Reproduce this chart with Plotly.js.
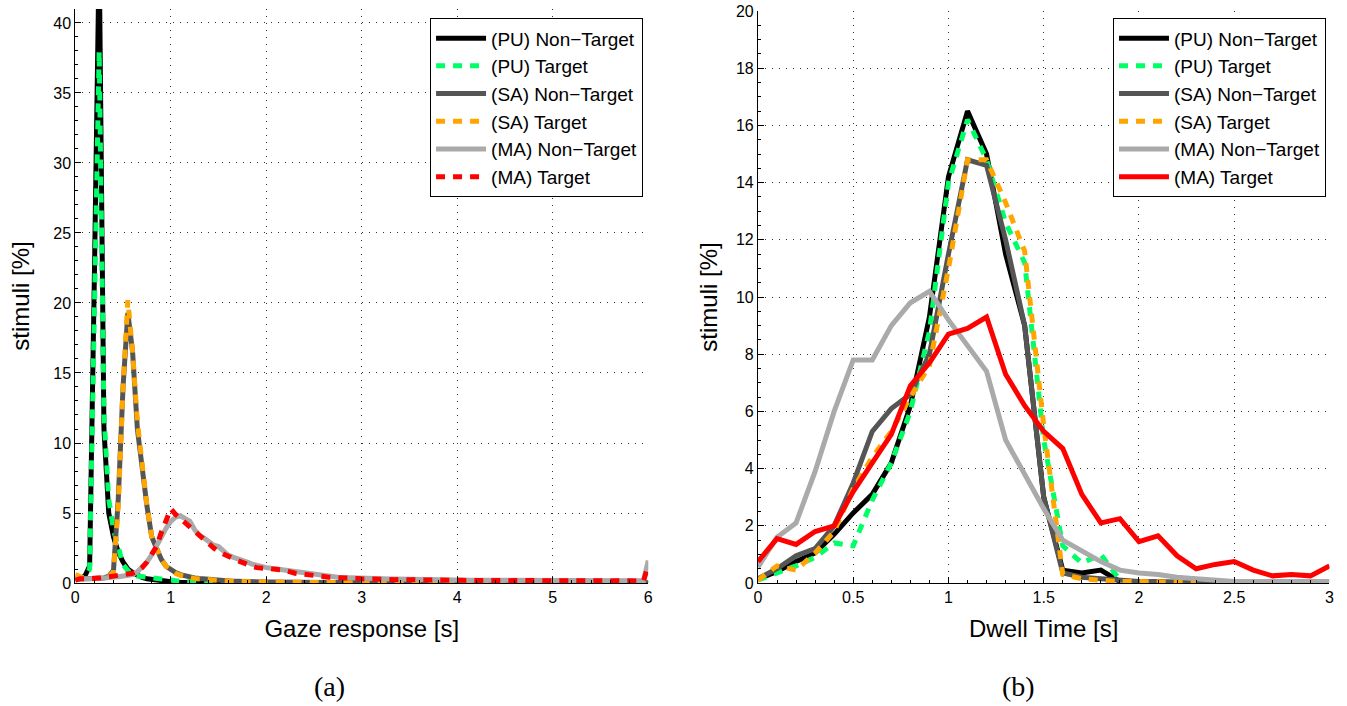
<!DOCTYPE html>
<html><head><meta charset="utf-8">
<script src="https://cdn.plot.ly/plotly-3.0.1.min.js"></script>
<style>html,body{margin:0;padding:0;background:#fff;}#chart{width:1347px;height:706px;}</style>
</head><body><div id="chart"></div>
<script>
const seriesNames = ['(PU) Non\u2212Target','(PU) Target','(SA) Non\u2212Target','(SA) Target','(MA) Non\u2212Target','(MA) Target'];
const seriesColors = ['#000000','#00ff66','#555555','#ffa500','#aaaaaa','#ff0000'];

// (a) Gaze response [s]
const gazeX = [
0,0.05,0.1,0.15,0.2,0.25,0.3,0.35,0.4,0.45,0.5,0.55,0.6,0.65,0.7,0.75,0.8,0.85,0.9,0.95,
1,1.05,1.1,1.15,1.2,1.25,1.3,1.35,1.4,1.45,1.5,1.55,1.6,1.65,1.7,1.75,1.8,1.85,1.9,1.95,
2,2.05,2.1,2.15,2.2,2.25,2.3,2.35,2.4,2.45,2.5,2.55,2.6,2.65,2.7,2.75,2.8,2.85,2.9,2.95,
3,3.05,3.1,3.15,3.2,3.25,3.3,3.35,3.4,3.45,3.5,3.55,3.6,3.65,3.7,3.75,3.8,3.85,3.9,3.95,
4,4.05,4.1,4.15,4.2,4.25,4.3,4.35,4.4,4.45,4.5,4.55,4.6,4.65,4.7,4.75,4.8,4.85,4.9,4.95,
5,5.05,5.1,5.15,5.2,5.25,5.3,5.35,5.4,5.45,5.5,5.55,5.6,5.65,5.7,5.75,5.8,5.85,5.9,5.95,
6];
const gazePUNonTarget = [
0.3,0.3,0.5,1.2,22,45,11,5,3.3,2.2,1.5,1.0,0.75,0.55,0.4,0.3,0.25,0.2,0.15,0.1,
0.08,0.05,0.04,0.03,0.02,0.02,0.01,0.01,0.01,0.01,0,0,0,0,0,0,0,0,0,0,
0,0,0,0,0,0,0,0,0,0,0,0,0,0,0,0,0,0,0,0,
0,0,0,0,0,0,0,0,0,0,0,0,0,0,0,0,0,0,0,0,
0,0,0,0,0,0,0,0,0,0,0,0,0,0,0,0,0,0,0,0,
0,0,0,0,0,0,0,0,0,0,0,0,0,0,0,0,0,0,0,0,
0];
const gazePUTarget = [
0.3,0.35,0.4,1.0,19,38,12,6,3.8,2.5,1.3,0.9,0.6,0.5,0.45,0.4,0.35,0.3,0.3,0.25,
0.2,0.15,0.12,0.1,0.08,0.06,0.05,0.04,0.03,0.02,0.02,0.01,0.01,0.01,0,0,0,0,0,0,
0,0,0,0,0,0,0,0,0,0,0,0,0,0,0,0,0,0,0,0,
0,0,0,0,0,0,0,0,0,0,0,0,0,0,0,0,0,0,0,0,
0,0,0,0,0,0,0,0,0,0,0,0,0,0,0,0,0,0,0,0,
0,0,0,0,0,0,0,0,0,0,0,0,0,0,0,0,0,0,0,0,
0];
const gazeSANonTarget = [
0.4,0.3,0.3,0.3,0.3,0.3,0.35,0.5,0.9,6,14,19.3,16.5,11,8,5.5,3.3,2.4,1.7,1.2,
0.95,0.75,0.6,0.5,0.42,0.36,0.32,0.28,0.25,0.22,0.2,0.17,0.15,0.13,0.12,0.1,0.1,0.09,0.08,0.08,
0.07,0.07,0.06,0.06,0.06,0.05,0.05,0.05,0.05,0.04,0.04,0.04,0.04,0.03,0.03,0.03,0.03,0.03,0.02,0.02,
0.02,0.02,0.02,0.02,0.02,0.01,0.01,0.01,0.01,0.01,0.01,0.01,0.01,0,0,0,0,0,0,0,
0,0,0,0,0,0,0,0,0,0,0,0,0,0,0,0,0,0,0,0,
0,0,0,0,0,0,0,0,0,0,0,0,0,0,0,0,0,0,0,0,
0];
const gazeSATarget = [
0.6,0.4,0.3,0.3,0.3,0.3,0.35,0.45,0.8,5.5,14,20.2,16.5,11.5,8.2,5.5,3.3,2.4,1.7,1.2,
0.9,0.7,0.55,0.45,0.38,0.33,0.28,0.25,0.22,0.2,0.18,0.16,0.14,0.12,0.11,0.1,0.09,0.08,0.08,0.07,
0.07,0.06,0.06,0.05,0.05,0.05,0.05,0.04,0.04,0.04,0.04,0.03,0.03,0.03,0.03,0.03,0.02,0.02,0.02,0.02,
0.02,0.02,0.01,0.01,0.01,0.01,0.01,0.01,0.01,0.01,0,0,0,0,0,0,0,0,0,0,
0,0,0,0,0,0,0,0,0,0,0,0,0,0,0,0,0,0,0,0,
0,0,0,0,0,0,0,0,0,0,0,0,0,0,0,0,0,0,0,0,
0];
const gazeMANonTarget = [
0.25,0.3,0.3,0.3,0.3,0.35,0.35,0.4,0.4,0.45,0.5,0.55,0.6,0.8,1.1,1.5,2.0,2.7,3.3,3.9,
4.4,4.7,4.8,4.6,4.4,3.8,3.4,3.2,2.9,2.7,2.6,2.3,2.0,1.85,1.75,1.6,1.5,1.35,1.25,1.15,
1.1,1.05,1.0,0.95,0.9,0.85,0.8,0.75,0.7,0.65,0.6,0.55,0.5,0.47,0.45,0.42,0.4,0.38,0.36,0.35,
0.33,0.32,0.31,0.3,0.3,0.29,0.28,0.28,0.27,0.26,0.26,0.25,0.25,0.24,0.24,0.23,0.23,0.22,0.22,0.21,
0.21,0.2,0.2,0.2,0.2,0.2,0.2,0.2,0.2,0.2,0.2,0.19,0.19,0.19,0.19,0.19,0.19,0.19,0.19,0.19,
0.19,0.18,0.18,0.18,0.18,0.18,0.18,0.18,0.18,0.18,0.18,0.17,0.17,0.17,0.17,0.17,0.17,0.17,0.17,0.17,
1.6];
const gazeMATarget = [
0.2,0.3,0.3,0.3,0.35,0.35,0.4,0.45,0.45,0.5,0.55,0.6,0.7,0.85,1.1,1.5,2.0,2.6,3.6,4.4,
5.3,4.9,4.6,4.3,4.0,3.6,3.4,3.0,2.7,2.5,2.25,2.05,1.9,1.75,1.6,1.45,1.35,1.2,1.1,1.05,
1.0,1.0,0.98,0.95,0.9,0.8,0.7,0.65,0.6,0.6,0.55,0.5,0.45,0.42,0.4,0.4,0.38,0.37,0.35,0.32,
0.3,0.28,0.27,0.28,0.26,0.25,0.26,0.24,0.25,0.23,0.24,0.22,0.23,0.22,0.21,0.22,0.2,0.21,0.2,0.2,
0.19,0.19,0.18,0.19,0.18,0.18,0.19,0.18,0.18,0.17,0.18,0.17,0.18,0.17,0.17,0.18,0.17,0.16,0.17,0.17,
0.16,0.16,0.17,0.16,0.16,0.15,0.16,0.16,0.15,0.16,0.15,0.15,0.15,0.16,0.15,0.14,0.15,0.15,0.14,0.15,
1.3];

// (b) Dwell Time [s]
const dwellX = [0,0.1,0.2,0.3,0.4,0.5,0.6,0.7,0.8,0.9,1.0,1.1,1.2,1.3,1.4,1.5,1.6,1.7,1.8,1.9,2.0,2.1,2.2,2.3,2.4,2.5,2.6,2.7,2.8,2.9,3.0];
const dwellPUNonTarget = [0.13,0.4,0.75,1.05,1.7,2.45,3.1,4.2,6.2,9.3,14.2,16.5,15.0,11.5,9.0,3.0,0.45,0.35,0.45,0.05];
const dwellPUTarget    = [0.1,0.35,0.6,0.9,1.4,1.3,2.9,4.2,6.0,8.8,14.0,16.2,14.8,12.6,11.2,5.0,1.3,0.7,1.0,0.1];
const dwellSANonTarget = [0.15,0.5,0.95,1.2,2.0,3.5,5.3,6.1,6.6,8.0,11.5,14.8,14.6,12.0,9.0,3.0,0.35,0.2,0.15,0.1,0.05,0.05,0.03,0.02,0.0];
const dwellSATarget    = [0.1,0.6,0.45,1.05,1.8,3.3,4.4,5.3,6.5,7.6,11.0,14.8,14.8,13.3,11.6,5.5,0.3,0.15,0.1,0.05,0.05,0.04,0.03,0.02];
const dwellMANonTarget = [0.55,1.6,2.1,3.9,6.0,7.8,7.8,9.0,9.8,10.2,9.2,8.3,7.4,5.0,3.8,2.6,1.5,1.1,0.75,0.45,0.35,0.3,0.2,0.15,0.1,0.05,0.05,0.05,0.05,0.05,0.05];
const dwellMATarget    = [0.75,1.55,1.35,1.8,2.0,3.2,4.2,5.2,6.9,7.7,8.7,8.9,9.3,7.3,6.2,5.3,4.7,3.1,2.1,2.25,1.45,1.65,0.95,0.5,0.65,0.75,0.45,0.25,0.3,0.25,0.6];

const gazeY = [gazePUNonTarget,gazePUTarget,gazeSANonTarget,gazeSATarget,gazeMANonTarget,gazeMATarget];
const dwellY = [dwellPUNonTarget,dwellPUTarget,dwellSANonTarget,dwellSATarget,dwellMANonTarget,dwellMATarget];
const gazeDash = ['solid','9px,8px','solid','9px,8px','solid','9px,8px'];
const dwellDash = ['solid','9px,8px','solid','9px,8px','solid','solid'];

const FONT = 'Liberation Sans, Arial, Helvetica, sans-serif';
const traces = [];
gazeY.forEach((y,i)=>{
  traces.push({type:'scatter',mode:'lines',x:gazeX.slice(0,y.length),y:y,name:seriesNames[i],
    line:{color:seriesColors[i],width:5,dash:gazeDash[i]},xaxis:'x',yaxis:'y',legend:'legend',hoverinfo:'skip'});
});
dwellY.forEach((y,i)=>{
  traces.push({type:'scatter',mode:'lines',x:dwellX.slice(0,y.length),y:y,name:seriesNames[i],
    line:{color:seriesColors[i],width:5,dash:dwellDash[i]},xaxis:'x2',yaxis:'y2',legend:'legend2',hoverinfo:'skip'});
});

function axisBase(){
  return {showline:true,linecolor:'#000',linewidth:1,mirror:false,zeroline:false,
    ticks:'inside',ticklen:6,tickcolor:'#000',tickwidth:1,
    showgrid:true,gridcolor:'#333',gridwidth:1,griddash:'1px,6px',
    tickfont:{family:FONT,size:16,color:'#000'},fixedrange:true,automargin:false};
}
const legendBase = {xanchor:'right',yanchor:'top',bgcolor:'#fff',bordercolor:'#000',borderwidth:1,
    font:{family:FONT,size:19,color:'#000'},tracegroupgap:0,itemwidth:50};
const layout = {
  width:1347,height:706,margin:{l:0,r:0,t:0,b:0},paper_bgcolor:'#fff',plot_bgcolor:'#fff',
  showlegend:true,
  xaxis:Object.assign(axisBase(),{domain:[0.0559,0.4813],range:[0,6],tickvals:[0,1,2,3,4,5,6],anchor:'y',
    minor:{ticks:'inside',ticklen:3,dtick:0.2,tickcolor:'#000',showgrid:false},
    title:{text:'Gaze response [s]',font:{family:FONT,size:24,color:'#000'},standoff:14}}),
  yaxis:Object.assign(axisBase(),{domain:[0.1742,0.9873],range:[0,41],tickvals:[0,5,10,15,20,25,30,35,40],anchor:'x',
    minor:{ticks:'inside',ticklen:3,dtick:1,tickcolor:'#000',showgrid:false},
    title:{text:'stimuli [%]',font:{family:FONT,size:24,color:'#000'},standoff:16}}),
  xaxis2:Object.assign(axisBase(),{domain:[0.5627,0.9870],range:[0,3],tickvals:[0,0.5,1,1.5,2,2.5,3],ticktext:['0','0.5','1','1.5','2','2.5','3'],anchor:'y2',
    minor:{ticks:'inside',ticklen:3,dtick:0.1,tickcolor:'#000',showgrid:false},
    title:{text:'Dwell Time [s]',font:{family:FONT,size:24,color:'#000'},standoff:14}}),
  yaxis2:Object.assign(axisBase(),{domain:[0.1742,0.9844],range:[0,20],tickvals:[0,2,4,6,8,10,12,14,16,18,20],anchor:'x2',
    minor:{ticks:'inside',ticklen:3,dtick:0.5,tickcolor:'#000',showgrid:false},
    title:{text:'stimuli [%]',font:{family:FONT,size:24,color:'#000'},standoff:11}}),
  legend:Object.assign({x:0.4774,y:0.9741},legendBase),
  legend2:Object.assign({x:0.9844,y:0.9741},legendBase),
  annotations:[
    {text:'(a)',xref:'paper',yref:'paper',x:0.2443,y:0.0283,xanchor:'center',yanchor:'middle',showarrow:false,
      font:{family:'Liberation Serif, DejaVu Serif, serif',size:28,color:'#000'}},
    {text:'(b)',xref:'paper',yref:'paper',x:0.7558,y:0.0283,xanchor:'center',yanchor:'middle',showarrow:false,
      font:{family:'Liberation Serif, DejaVu Serif, serif',size:28,color:'#000'}}
  ]
};
Plotly.newPlot('chart',traces,layout,{staticPlot:true,displayModeBar:false});
</script></body></html>
